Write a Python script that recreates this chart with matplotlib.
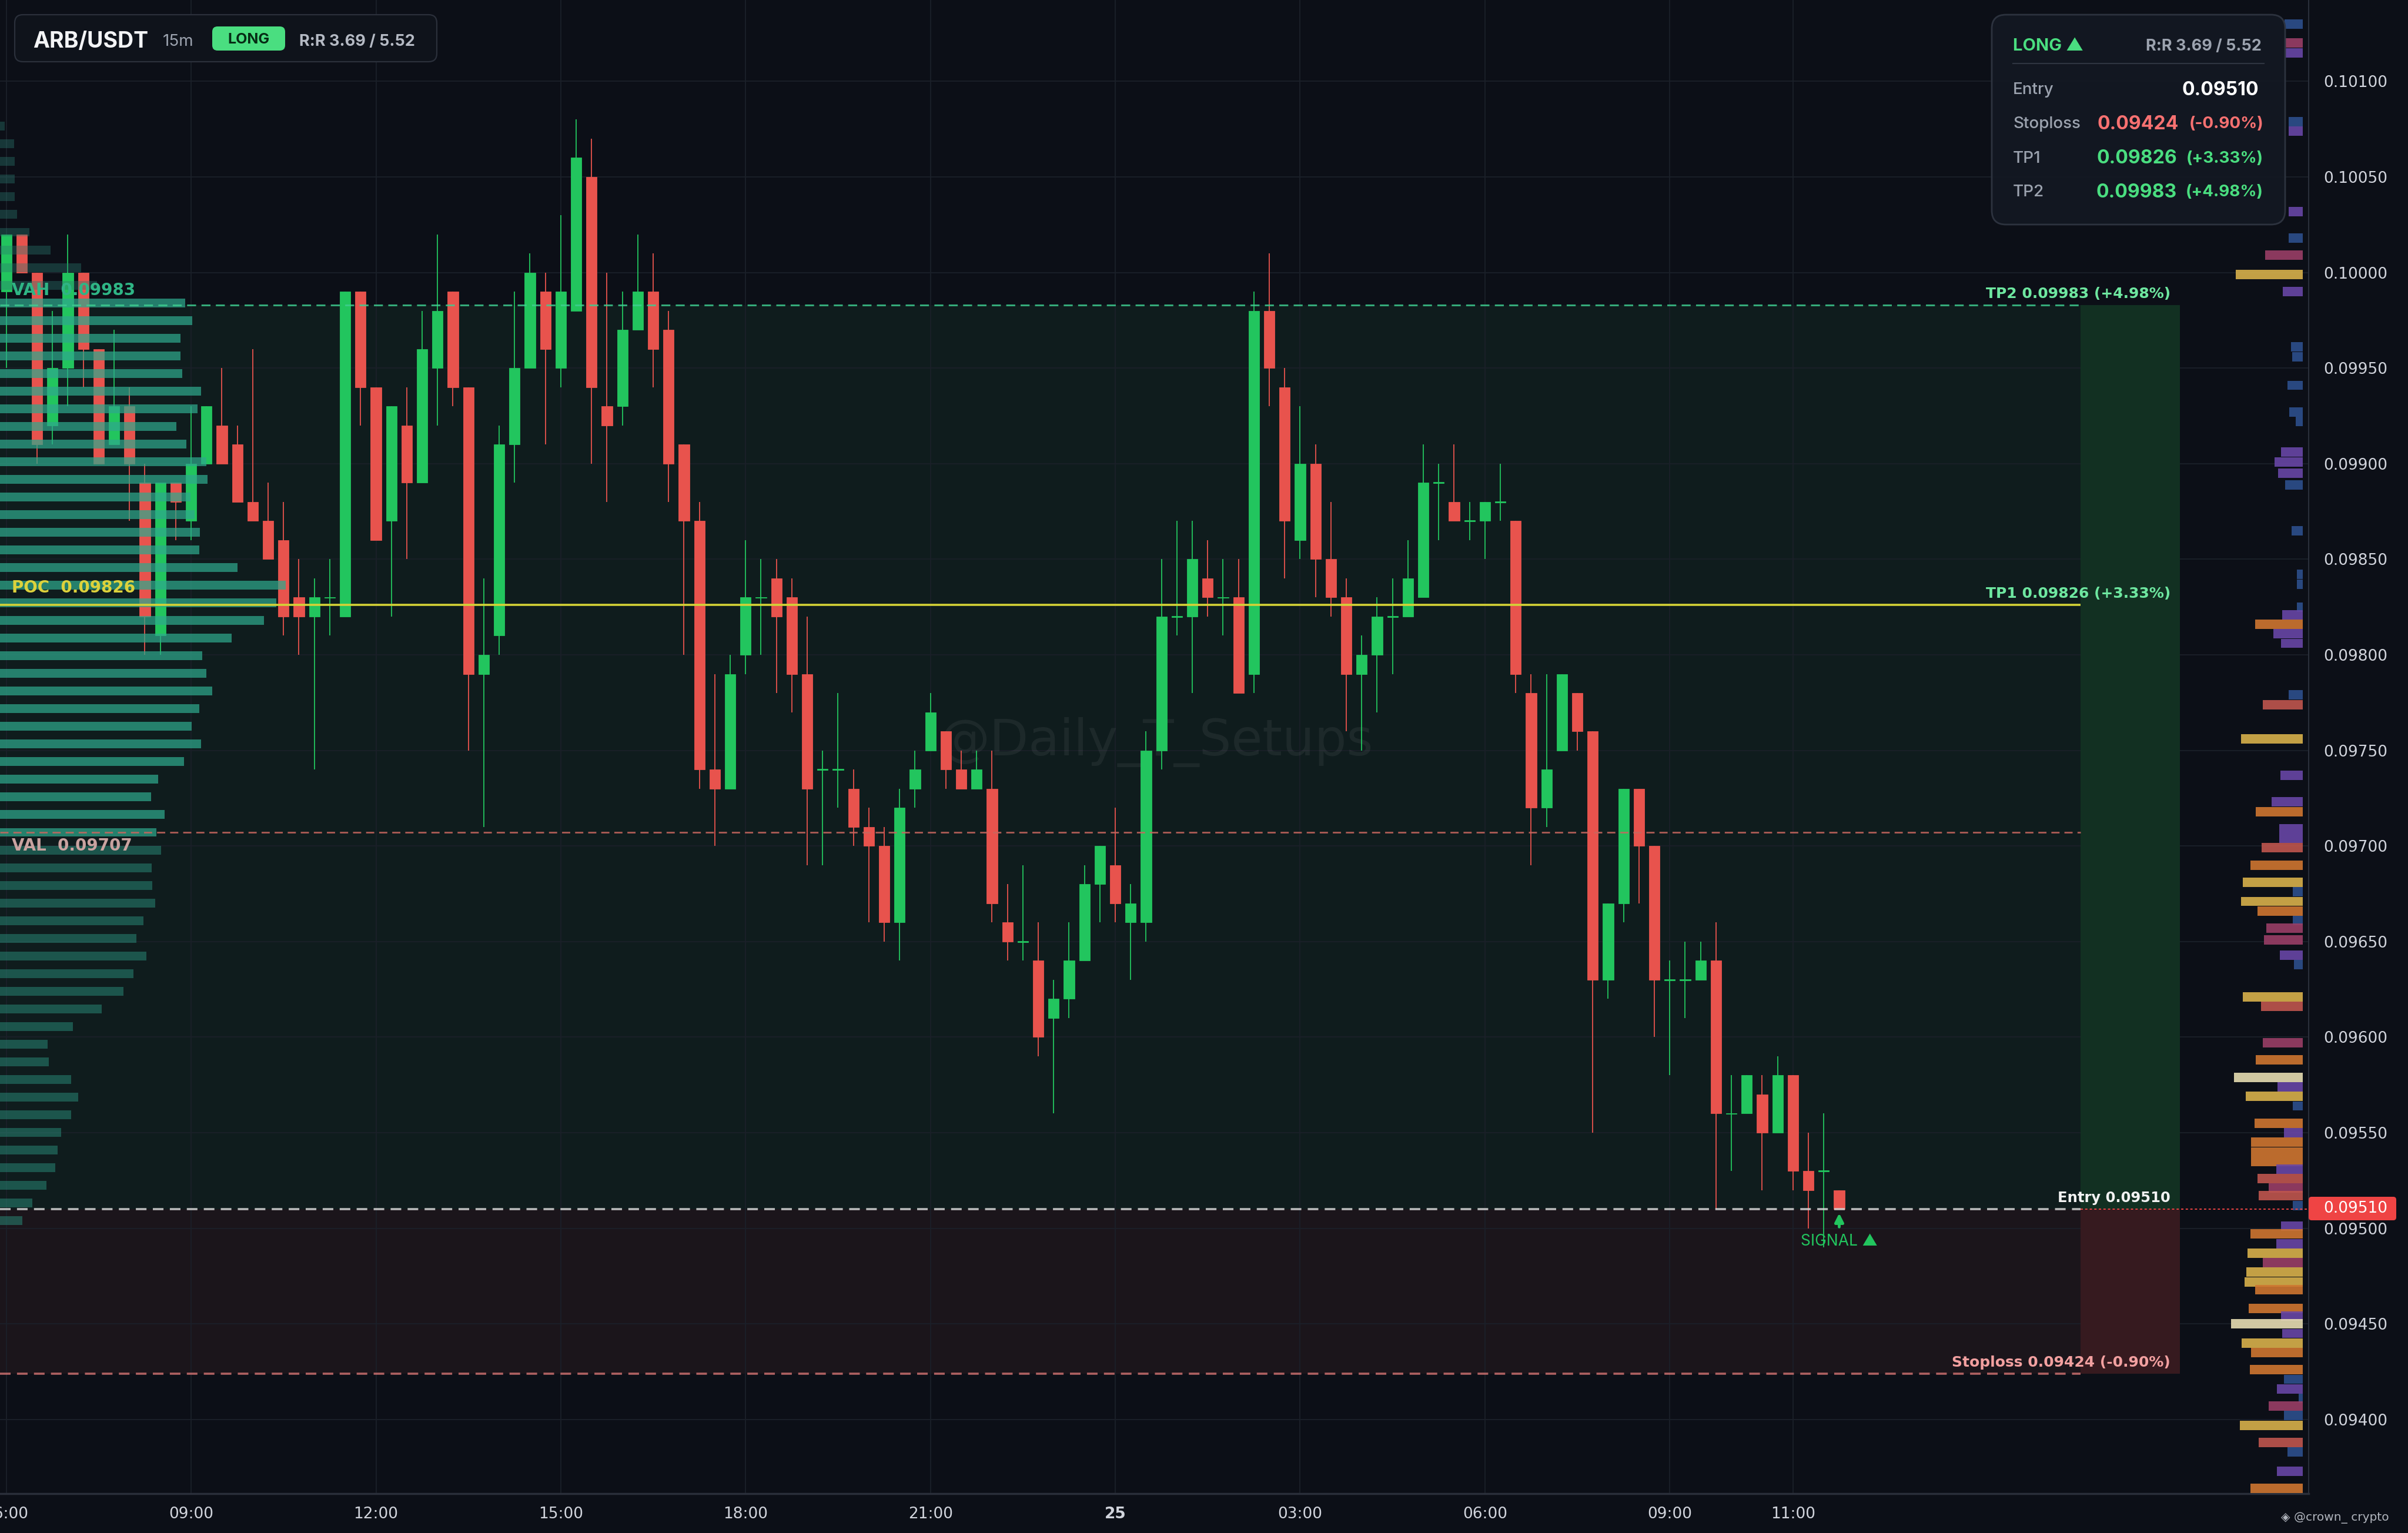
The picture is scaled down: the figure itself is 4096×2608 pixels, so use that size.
import numpy as np
import matplotlib
matplotlib.use('Agg')
import matplotlib.pyplot as plt
from matplotlib.patches import FancyBboxPatch, Rectangle
from matplotlib.transforms import IdentityTransform
from matplotlib.ticker import FormatStrFormatter

# ---------------- data ----------------
time_labels = ['06:00', '09:00', '12:00', '15:00', '18:00', '21:00', '25', '03:00', '06:00', '09:00', '11:00']
time_idx = [0, 12, 24, 36, 48, 60, 72, 84, 96, 108, 116]

opens = [0.0999, 0.1002, 0.1000, 0.0992, 0.0995, 0.1000, 0.0996, 0.0991, 0.0993, 0.0989,
         0.0981, 0.0989, 0.0987, 0.0990, 0.0992, 0.0991, 0.0988, 0.0987, 0.0986, 0.0983,
         0.0982, 0.0983, 0.0982, 0.0999, 0.0994, 0.0987, 0.0992, 0.0989, 0.0995, 0.0999,
         0.0994, 0.0979, 0.0981, 0.0991, 0.0995, 0.0999, 0.0995, 0.0998, 0.1005, 0.0993,
         0.0993, 0.0997, 0.0999, 0.0997, 0.0991, 0.0987, 0.0974, 0.0973, 0.0980, 0.0983,
         0.0984, 0.0983, 0.0979, 0.0974, 0.0974, 0.0973, 0.0971, 0.0970, 0.0966, 0.0973,
         0.0975, 0.0976, 0.0974, 0.0973, 0.0973, 0.0966, 0.0965, 0.0964, 0.0961, 0.0962,
         0.0964, 0.0968, 0.0969, 0.0966, 0.0966, 0.0975, 0.0982, 0.0982, 0.0984, 0.0983,
         0.0983, 0.0979, 0.0998, 0.0994, 0.0986, 0.0990, 0.0985, 0.0983, 0.0979, 0.0980,
         0.0982, 0.0982, 0.0983, 0.0989, 0.0988, 0.0987, 0.0987, 0.0988, 0.0987, 0.0978,
         0.0972, 0.0975, 0.0978, 0.0976, 0.0963, 0.0967, 0.0973, 0.0970, 0.0963, 0.0963,
         0.0963, 0.0964, 0.0956, 0.0956, 0.0957, 0.0955, 0.0958, 0.0953, 0.0953, 0.0952]
closes = [0.1002, 0.1000, 0.0991, 0.0995, 0.1000, 0.0996, 0.0990, 0.0993, 0.0990, 0.0982,
          0.0989, 0.0988, 0.0990, 0.0993, 0.0990, 0.0988, 0.0987, 0.0985, 0.0982, 0.0982,
          0.0983, 0.0983, 0.0999, 0.0994, 0.0986, 0.0993, 0.0989, 0.0996, 0.0998, 0.0994,
          0.0979, 0.0980, 0.0991, 0.0995, 0.1000, 0.0996, 0.0999, 0.1006, 0.0994, 0.0992,
          0.0997, 0.0999, 0.0996, 0.0990, 0.0987, 0.0974, 0.0973, 0.0979, 0.0983, 0.0983,
          0.0982, 0.0979, 0.0973, 0.0974, 0.0974, 0.0971, 0.0970, 0.0966, 0.0972, 0.0974,
          0.0977, 0.0974, 0.0973, 0.0974, 0.0967, 0.0965, 0.0965, 0.0960, 0.0962, 0.0964,
          0.0968, 0.0970, 0.0967, 0.0967, 0.0975, 0.0982, 0.0982, 0.0985, 0.0983, 0.0983,
          0.0978, 0.0998, 0.0995, 0.0987, 0.0990, 0.0985, 0.0983, 0.0979, 0.0980, 0.0982,
          0.0982, 0.0984, 0.0989, 0.0989, 0.0987, 0.0987, 0.0988, 0.0988, 0.0979, 0.0972,
          0.0974, 0.0979, 0.0976, 0.0963, 0.0967, 0.0973, 0.0970, 0.0963, 0.0963, 0.0963,
          0.0964, 0.0956, 0.0956, 0.0958, 0.0955, 0.0958, 0.0953, 0.0952, 0.0953, 0.0951]
highs = [0.1002, 0.1002, 0.1000, 0.0998, 0.1002, 0.1000, 0.0996, 0.0997, 0.0994, 0.0990,
         0.0989, 0.0989, 0.0993, 0.0993, 0.0995, 0.0992, 0.0996, 0.0989, 0.0988, 0.0985,
         0.0984, 0.0985, 0.0999, 0.0999, 0.0994, 0.0993, 0.0994, 0.0998, 0.1002, 0.0999,
         0.0994, 0.0984, 0.0992, 0.0999, 0.1001, 0.1000, 0.1003, 0.1008, 0.1007, 0.1000,
         0.0999, 0.1002, 0.1001, 0.0998, 0.0991, 0.0988, 0.0979, 0.0980, 0.0986, 0.0985,
         0.0985, 0.0984, 0.0982, 0.0975, 0.0978, 0.0974, 0.0972, 0.0971, 0.0973, 0.0975,
         0.0978, 0.0976, 0.0975, 0.0975, 0.0975, 0.0968, 0.0969, 0.0966, 0.0963, 0.0966,
         0.0969, 0.0970, 0.0972, 0.0968, 0.0976, 0.0985, 0.0987, 0.0987, 0.0986, 0.0985,
         0.0985, 0.0999, 0.1001, 0.0995, 0.0993, 0.0991, 0.0988, 0.0984, 0.0981, 0.0983,
         0.0984, 0.0986, 0.0991, 0.0990, 0.0991, 0.0988, 0.0988, 0.0990, 0.0987, 0.0979,
         0.0979, 0.0979, 0.0978, 0.0976, 0.0967, 0.0973, 0.0973, 0.0970, 0.0964, 0.0965,
         0.0965, 0.0966, 0.0958, 0.0958, 0.0958, 0.0959, 0.0958, 0.0955, 0.0956, 0.0952]
lows = [0.0995, 0.1000, 0.0990, 0.0991, 0.0993, 0.0994, 0.0990, 0.0991, 0.0987, 0.0980,
        0.0980, 0.0986, 0.0986, 0.0990, 0.0990, 0.0988, 0.0987, 0.0985, 0.0981, 0.0980,
        0.0974, 0.0981, 0.0982, 0.0992, 0.0986, 0.0982, 0.0985, 0.0989, 0.0992, 0.0993,
        0.0975, 0.0971, 0.0980, 0.0989, 0.0995, 0.0991, 0.0994, 0.0998, 0.0990, 0.0988,
        0.0992, 0.0997, 0.0994, 0.0988, 0.0980, 0.0973, 0.0970, 0.0973, 0.0979, 0.0980,
        0.0978, 0.0977, 0.0969, 0.0969, 0.0972, 0.0970, 0.0966, 0.0965, 0.0964, 0.0972,
        0.0975, 0.0973, 0.0973, 0.0973, 0.0966, 0.0964, 0.0964, 0.0959, 0.0956, 0.0961,
        0.0964, 0.0966, 0.0966, 0.0963, 0.0965, 0.0974, 0.0981, 0.0978, 0.0982, 0.0981,
        0.0978, 0.0978, 0.0993, 0.0984, 0.0985, 0.0983, 0.0982, 0.0976, 0.0975, 0.0977,
        0.0979, 0.0982, 0.0983, 0.0986, 0.0987, 0.0986, 0.0985, 0.0987, 0.0978, 0.0969,
        0.0971, 0.0975, 0.0975, 0.0955, 0.0962, 0.0966, 0.0967, 0.0960, 0.0958, 0.0961,
        0.0963, 0.0951, 0.0953, 0.0956, 0.0952, 0.0955, 0.0952, 0.0950, 0.0949, 0.0951]

entry = 0.09510
stoploss = 0.09424
tp1 = 0.09826
tp2 = 0.09983
vah = 0.09983
poc = 0.09826
val = 0.09707
signal_idx = 119

# left session volume profile (top bin first)
vp_top = 0.100765
vp_step = 0.00009234
vp_vol = [8, 24, 25, 25, 25, 29, 50, 86, 138, 165, 315, 327, 307, 307, 310, 342, 336, 300, 317, 351,
          353, 324, 331, 340, 339, 404, 486, 470, 449, 394, 344, 351, 361, 339, 326, 342, 313, 269, 257, 280,
          266, 274, 258, 259, 264, 244, 232, 249, 227, 210, 173, 124, 81, 83, 121, 133, 121, 104, 98, 94,
          79, 55, 38]

# right-edge liquidity heat profile
hm_price = [0.10130, 0.10120, 0.10115, 0.10079, 0.10074, 0.10032, 0.10018, 0.10009, 0.09999, 0.09990,
            0.09961, 0.09956, 0.09941, 0.09927, 0.09922, 0.09906, 0.09901, 0.09895, 0.09889, 0.09865,
            0.09842, 0.09837, 0.09825, 0.09821, 0.09816, 0.09811, 0.09806, 0.09779, 0.09774, 0.09756,
            0.09737, 0.09723, 0.09718, 0.09709, 0.09704, 0.09699, 0.09690, 0.09681, 0.09676, 0.09671,
            0.09666, 0.09661, 0.09657, 0.09651, 0.09643, 0.09638, 0.09621, 0.09616, 0.09597, 0.09588,
            0.09579, 0.09574, 0.09569, 0.09564, 0.09555, 0.09550, 0.09545, 0.09540, 0.09535, 0.09531,
            0.09526, 0.09521, 0.09517, 0.09512, 0.09501, 0.09497, 0.09492, 0.09487, 0.09482, 0.09477,
            0.09472, 0.09468, 0.09458, 0.09454, 0.09450, 0.09445, 0.09440, 0.09435, 0.09426, 0.09421,
            0.09416, 0.09411, 0.09407, 0.09402, 0.09397, 0.09388, 0.09383, 0.09373, 0.09364]
hm_vol = [31, 31, 31, 24, 24, 24, 24, 64, 114, 34,
          20, 18, 26, 23, 12, 37, 48, 42, 30, 19,
          10, 10, 10, 35, 81, 50, 37, 24, 68, 105,
          38, 53, 80, 40, 40, 70, 89, 102, 17, 105,
          77, 17, 62, 66, 39, 15, 102, 71, 68, 80,
          117, 43, 97, 17, 82, 32, 88, 88, 88, 45,
          77, 58, 75, 17, 37, 89, 45, 94, 68, 96,
          99, 81, 92, 37, 122, 35, 104, 88, 90, 32,
          44, 7, 58, 32, 107, 75, 26, 44, 89]
hm_level = [0, 2, 1, 0, 1, 1, 0, 2, 5, 1,
            0, 0, 0, 0, 0, 1, 1, 1, 0, 0,
            0, 0, 0, 1, 4, 1, 1, 0, 3, 5,
            1, 1, 4, 1, 1, 3, 4, 5, 0, 5,
            4, 0, 2, 2, 1, 0, 5, 3, 2, 4,
            6, 1, 5, 0, 4, 1, 4, 4, 4, 1,
            3, 2, 3, 0, 1, 4, 1, 5, 2, 5,
            5, 4, 4, 1, 6, 1, 5, 4, 4, 0,
            1, 0, 2, 0, 5, 3, 0, 1, 4]

# ---------------- layout / style ----------------
W, H = 4096, 2608
BG = '#0c0f17'
GREEN = '#22c55e'
RED = '#e8534d'
GRID = '#1b2029'
TXT = '#d1d4dc'
UI = ['Inter', 'DejaVu Sans']


def xd(fx):      # pixel column -> candle index
    return (fx - 10.7) / 26.2


def yd(fy):      # pixel row -> price
    return 0.10100 - (fy - 138.4) * 3.075e-6


PXW = 1 / 26.2   # one pixel in x data units

fig = plt.figure(figsize=(W / 100, H / 100), dpi=100, facecolor=BG)
ax = fig.add_axes([0, (H - 2541) / H, 3927 / W, 2541 / H])
ax.set_facecolor(BG)
XL, XR = xd(0), xd(3927)
ax.set_xlim(XL, XR)
ax.set_ylim(yd(2541), yd(0))

# grid
yt = [0.0940 + 0.0005 * k for k in range(15)]
ax.set_yticks(yt)
ax.yaxis.set_major_formatter(FormatStrFormatter('%.5f'))
ax.set_xticks(time_idx)
ax.set_xticklabels(time_labels)
for lbl in ax.get_xticklabels():
    if lbl.get_text() == '25':
        lbl.set_fontweight('bold')
ax.grid(True, color=GRID, lw=1.3, zorder=0.3)
ax.set_axisbelow(True)
ax.yaxis.tick_right()
ax.tick_params(axis='y', length=0, pad=18, labelsize=19, labelcolor=TXT)
ax.tick_params(axis='x', length=0, pad=16, labelsize=19, labelcolor=TXT)
for s in ['top', 'left']:
    ax.spines[s].set_visible(False)
ax.spines['bottom'].set_color('#2a2f3a')
ax.spines['bottom'].set_linewidth(2.5)
ax.spines['right'].set_color('#2a2f3a')
ax.spines['right'].set_linewidth(1.5)

# trade zones
X_LINE_END = xd(3539)
X_BOX_END = xd(3708)
ax.add_patch(Rectangle((XL, entry), X_BOX_END - XL, tp2 - entry, fc='#0f1c1d', ec='none', zorder=0.2))
ax.add_patch(Rectangle((XL, stoploss), X_BOX_END - XL, entry - stoploss, fc='#1b151b', ec='none', zorder=0.2))
ax.add_patch(Rectangle((X_LINE_END, entry), X_BOX_END - X_LINE_END, tp2 - entry, fc='#123022', ec='none', zorder=1))
ax.add_patch(Rectangle((X_LINE_END, stoploss), X_BOX_END - X_LINE_END, entry - stoploss, fc='#361a1f', ec='none', zorder=1))

# watermark
ax.text(xd(1967), yd(1262), '@Daily_T_Setups', fontsize=62, color='white', alpha=0.06,
        ha='center', va='center', zorder=1.5, family='DejaVu Sans')

# candles
idx = np.arange(len(opens))
o = np.array(opens); c = np.array(closes); h = np.array(highs); l = np.array(lows)
up = c >= o
cols = np.where(up, GREEN, RED)
body_lo = np.minimum(o, c)
body_h = np.maximum(np.abs(c - o), 0.0000055)
ax.vlines(idx, l, h, colors=cols, lw=1.3, zorder=3)
ax.bar(idx, body_h, bottom=body_lo - np.where(np.abs(c - o) < 1e-9, 0.0000027, 0), width=0.7,
       color=cols, edgecolor=cols, lw=0.6, zorder=3.2)

# left volume profile
vp_centers = np.array([vp_top - vp_step * k for k in range(len(vp_vol))])
vp_w = np.array(vp_vol) * PXW
in_va = (vp_centers <= vah + 0.00003) & (vp_centers >= val - 0.00003)
above = vp_centers > vah + 0.00003
for yc, wv, inside, ab in zip(vp_centers, vp_w, in_va, above):
    if inside:
        colr, a = '#2ea88c', 0.72
    elif ab:
        colr, a = '#2a7a70', 0.38
    else:
        colr, a = '#2a8f7c', 0.5
    ax.barh(yc, wv, left=XL, height=0.000046, color=colr, alpha=a, lw=0, zorder=4)

# right heat profile
hm_colors = ['#2d4f8c', '#6846a6', '#9a3e66', '#c0564e', '#cf7630', '#d8b14b', '#e7ddb2']
X_HM = xd(3917)
for p, v, lv in zip(hm_price, hm_vol, hm_level):
    ax.barh(p, v * PXW, left=X_HM - v * PXW, height=0.000049, color=hm_colors[lv], alpha=0.9,
            lw=0, zorder=4)

# level lines
ax.hlines(tp2, XL, X_LINE_END, colors='#3fcf91', linestyles=(0, (5, 3)), lw=2.2, alpha=0.8, zorder=5)
ax.hlines(poc, XL, X_LINE_END, colors='#d4d236', lw=2.6, zorder=5)
ax.hlines(val, XL, X_LINE_END, colors='#c8675f', linestyles=(0, (5, 3)), lw=2.0, alpha=0.85, zorder=5)
ax.hlines(entry, XL, X_LINE_END, colors='#d6d6d6', linestyles=(0, (5, 3)), lw=2.6, alpha=0.85, zorder=5)
ax.hlines(stoploss, XL, X_LINE_END, colors='#d77575', linestyles=(0, (5, 3)), lw=2.6, alpha=0.8, zorder=5)
ax.hlines(entry, X_LINE_END, XR, colors='#ef4444', linestyles=(0, (2, 2)), lw=1.4, zorder=5)

# profile level labels
DY = 3.075e-6
ax.text(xd(20), vah + 25 * DY, 'VAH  0.09983', color='#2fb585', fontsize=20, fontweight='bold',
        va='center', ha='left', zorder=6)
ax.text(xd(20), poc + 29 * DY, 'POC  0.09826', color='#dcd23c', fontsize=20, fontweight='bold',
        va='center', ha='left', zorder=6)
ax.text(xd(20), val - 23 * DY, 'VAL  0.09707', color='#c9a3a0', fontsize=20, fontweight='bold',
        va='center', ha='left', zorder=6)

# trade level labels
X_LBL = xd(3692)
ax.text(X_LBL, tp2 + 19 * DY, 'TP2 0.09983 (+4.98%)', color='#6ee7a0', fontsize=18, fontweight='bold',
        ha='right', va='center', zorder=6)
ax.text(X_LBL, tp1 + 19 * DY, 'TP1 0.09826 (+3.33%)', color='#6ee7a0', fontsize=18, fontweight='bold',
        ha='right', va='center', zorder=6)
ax.text(X_LBL, entry + 19 * DY, 'Entry 0.09510', color='#f2f2f2', fontsize=17.5, fontweight='bold',
        ha='right', va='center', zorder=6)
ax.text(X_LBL, stoploss + 19 * DY, 'Stoploss 0.09424 (-0.90%)', color='#f2a0a0', fontsize=18,
        fontweight='bold', ha='right', va='center', zorder=6)

# signal marker
ax.annotate('', xy=(signal_idx, entry - 4 * DY), xytext=(signal_idx, entry - 33 * DY),
            arrowprops=dict(arrowstyle='-|>', color=GREEN, lw=3.5, mutation_scale=22), zorder=6)
ax.text(signal_idx, entry - 55 * DY, 'SIGNAL ▲', color=GREEN, fontsize=19, ha='center', va='center',
        family=UI, zorder=6)

# ---------------- UI overlays (pixel coordinates) ----------------
ID = IdentityTransform()


def box(x0, y0, x1, y1, r, fc, ec, lw=1.5, alpha=1.0):
    p = FancyBboxPatch((x0 + r, H - y1 + r), (x1 - x0) - 2 * r, (y1 - y0) - 2 * r,
                       boxstyle=f'round,pad={r}', fc=fc, ec=ec, lw=lw, alpha=alpha, transform=ID)
    fig.add_artist(p)


def T(fx, fy, s, **kw):
    kw.setdefault('va', 'center')
    kw.setdefault('family', UI)
    fig.text(fx / W, 1 - fy / H, s, **kw)


# top-left header
box(25, 25, 743, 105, 14, '#0f131b', '#2b303b', 1.6)
T(56, 71, 'ARB/USDT', fontsize=27, fontweight='bold', color='#f3f4f6')
T(277, 71, '15m', fontsize=20, color='#9ca3af')
box(361, 45, 485, 86, 9, '#4ade80', 'none', 0)
T(423, 68, 'LONG', fontsize=18, fontweight='bold', color='#062b14', ha='center')
T(509, 71, 'R:R 3.69 / 5.52', fontsize=19.5, fontweight='bold', color='#b5bac4')

# top-right trade card
box(3388, 25, 3887, 382, 24, '#131822', '#2e3440', 2.0, 0.97)
T(3424, 79, 'LONG ▲', fontsize=21, fontweight='bold', color='#4ade80')
T(3847, 79, 'R:R 3.69 / 5.52', fontsize=19.5, fontweight='bold', color='#9ca3af', ha='right')
fig.add_artist(plt.Line2D([3424, 3851], [H - 108, H - 108], color='#2f3541', lw=1.5, transform=ID))
rows = [('Entry', 153), ('Stoploss', 211), ('TP1', 270), ('TP2', 327)]
for name, fy in rows:
    T(3424, fy, name, fontsize=20, fontweight='medium', color='#9ca3af')
T(3842, 153, '0.09510', fontsize=23, fontweight='bold', color='#ffffff', ha='right')
T(3706, 211, '0.09424', fontsize=23, fontweight='bold', color='#f87171', ha='right')
T(3850, 211, '(-0.90%)', fontsize=20, fontweight='bold', color='#f87171', ha='right')
T(3703, 270, '0.09826', fontsize=23, fontweight='bold', color='#4ade80', ha='right')
T(3850, 270, '(+3.33%)', fontsize=20, fontweight='bold', color='#4ade80', ha='right')
T(3703, 327, '0.09983', fontsize=23, fontweight='bold', color='#4ade80', ha='right')
T(3850, 327, '(+4.98%)', fontsize=20, fontweight='bold', color='#4ade80', ha='right')

# current price tag on axis
box(3927, 2036, 4076, 2076, 5, '#ef4444', 'none', 0)
T(3952, 2056, '0.09510', fontsize=19, color='#ffffff', family='DejaVu Sans')

# footer watermark
T(3880, 2582, '◈ @crown_ crypto', fontsize=14.5, color='#b0b4bc', family='DejaVu Sans')

fig.savefig('out.png', dpi=100, facecolor=BG)
